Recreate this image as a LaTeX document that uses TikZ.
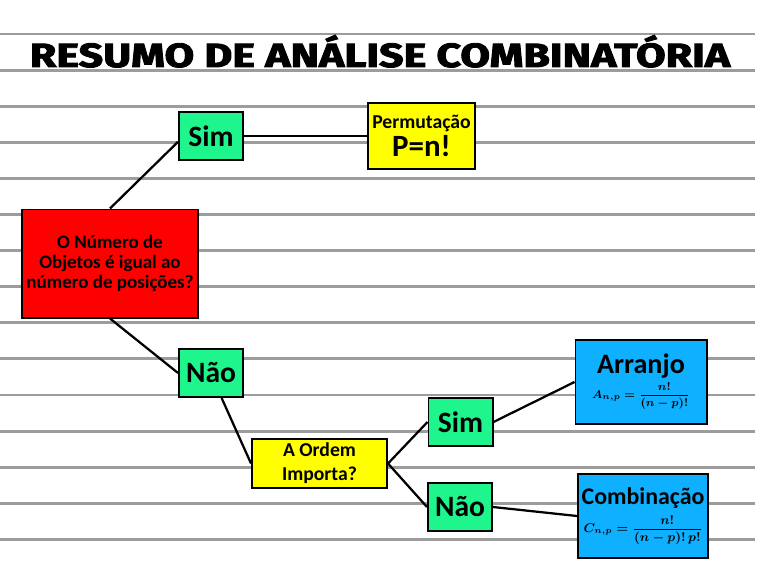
\documentclass[tikz,border=0pt]{standalone}
\usepackage{amsmath}
\usepackage{graphicx}
\usepackage{fontspec}
\setmainfont{Carlito}
\newfontfamily\titlefont{Fira Sans}[BoldFeatures={FakeBold=2.5}]
\usetikzlibrary{positioning}
\definecolor{BoxRed}{HTML}{FF0000}
\definecolor{BoxYellow}{HTML}{FFFF00}
\definecolor{BoxGreen}{HTML}{1EF58C}
\definecolor{BoxBlue}{HTML}{0FB0FF}
\definecolor{RuleGray}{HTML}{9C9C9C}

\begin{document}
\begin{tikzpicture}[
  x=0.025cm,y=-0.025cm,
  link/.style={
    line width=1.6pt,
    draw=black
  },
  ruleline/.style={
    line width=2pt,
    draw=RuleGray
  },
  askred/.style={
    draw=black,
    line width=1.4pt,
    fill=BoxRed,
    align=center,
    inner sep=3pt,
    font=\fontsize{13.5}{14.5}\selectfont\bfseries
  },
  askyellow/.style={
    draw=black,
    line width=1.4pt,
    fill=BoxYellow,
    align=center,
    inner sep=3pt,
    font=\fontsize{14}{17}\selectfont\bfseries
  },
  answer/.style={
    draw=black,
    line width=1.4pt,
    fill=BoxGreen,
    align=center,
    minimum width=1.6cm,
    minimum height=1.2cm,
    inner sep=2pt,
    font=\fontsize{21}{22}\selectfont\bfseries
  },
  resultyellow/.style={
    draw=black,
    line width=1.4pt,
    fill=BoxYellow,
    align=center,
    inner sep=2pt
  },
  resultblue/.style={
    draw=black,
    line width=1.4pt,
    fill=BoxBlue,
    align=center,
    inner sep=2pt
  }
]

\useasboundingbox (0,0) rectangle (760,570);
\fill[white] (0,0) rectangle (760,570);

% -------------------------------------------------
% Ruled paper
% -------------------------------------------------
\foreach \k in {0,...,14}{
  \pgfmathsetmacro{\ry}{34+36.1*\k}
  \draw[ruleline] (0,\ry) -- (755,\ry);
}

% -------------------------------------------------
% Title
% -------------------------------------------------
\node[anchor=base, inner sep=0pt] (title) at (380,67)
{\resizebox{17.5cm}{0.8cm}{\titlefont\bfseries RESUMO DE ANÁLISE COMBINATÓRIA}};

% -------------------------------------------------
% First question
% -------------------------------------------------
\node[askred, minimum width=4.375cm, minimum height=2.7cm] (q1) at (110,263.5)
{O Número de\\Objetos é igual ao\\número de posições?};

\node[answer] (sim1) at (211,136) {Sim};
\node[answer] (nao1) at (211,373) {Não};

\node[resultyellow, minimum width=2.675cm, minimum height=1.65cm] (perm) at (421.5,136)
{{\fontsize{14}{15}\selectfont\bfseries Permutação}\\[1pt]
{\fontsize{22}{22}\selectfont\bfseries P=n!}};

\draw[link] (q1.north) -- (sim1.-170);
\draw[link] (sim1.east) -- (perm.west);
\draw[link] (q1.south) -- (nao1.west);

% -------------------------------------------------
% Second question
% -------------------------------------------------
\node[askyellow, minimum width=3.375cm, minimum height=1.225cm] (q2) at (319.5,463.5)
{A Ordem\\Importa?};

\node[answer] (sim2) at (460.5,422) {Sim};
\node[answer] (nao2) at (460,507) {Não};

\node[resultblue, minimum width=3.275cm, minimum height=2.1cm] (arr) at (641,382)
{{\fontsize{20}{21}\selectfont\bfseries Arranjo}\\[2pt]
{\fontsize{8.5}{10}\selectfont\boldmath $A_{n,p}=\dfrac{n!}{(n-p)!}$}};

\node[resultblue, minimum width=3.25cm, minimum height=2.1cm] (comb) at (643,516)
{{\fontsize{17}{18}\selectfont\bfseries Combinação}\\[4pt]
{\fontsize{9}{10}\selectfont\boldmath $C_{n,p}=\dfrac{n!}{(n-p)!\,p!}$}};

\draw[link] (nao1.-67) -- (q2.west);
\draw[link] (q2.east) -- (sim2.west);
\draw[link] (q2.east) -- (nao2.west);
\draw[link] (sim2.east) -- (arr.west);
\draw[link] (nao2.east) -- (comb.west);

\end{tikzpicture}
\end{document}
